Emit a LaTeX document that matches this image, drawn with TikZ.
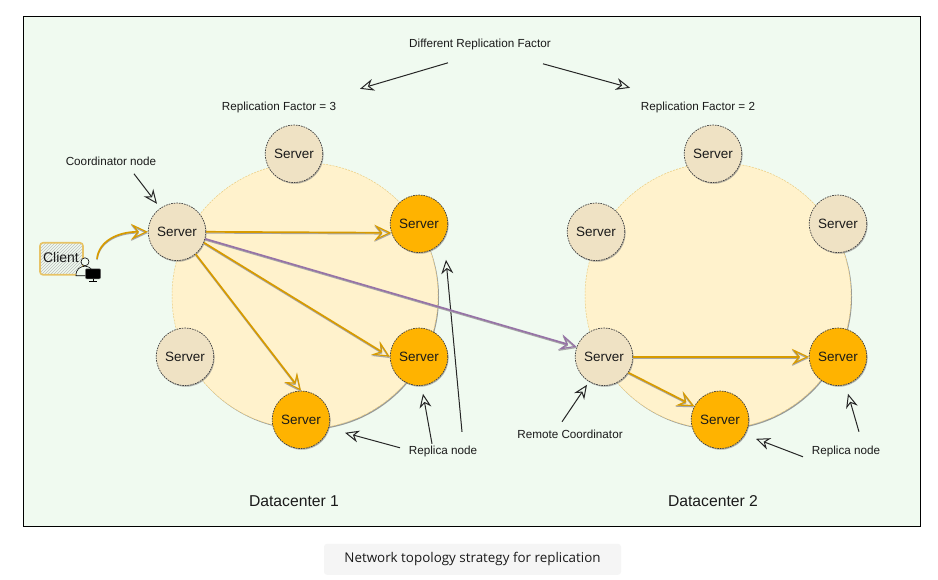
\documentclass[tikz,border=0pt]{standalone}
\usepackage{fontspec}
\setmainfont{Liberation Sans}
\newfontfamily\capfont{Open Sans}
\usetikzlibrary{arrows.meta,patterns,shadows}
\definecolor{framegreen}{HTML}{F0FAF0}
\definecolor{ringyellow}{HTML}{FFF2CC}
\definecolor{servertan}{HTML}{EFE2C4}
\definecolor{replicaorange}{HTML}{FFB300}
\definecolor{flowgold}{HTML}{D79B00}
\definecolor{flowpurple}{HTML}{9673A6}
\definecolor{inktext}{HTML}{1A1A1A}
\tikzset{
  dcring/.style={circle,minimum size=266pt,inner sep=0pt,fill=ringyellow,draw=flowgold!50,dash pattern=on 2pt off 1.2pt,line width=.5pt,
    drop shadow={shadow xshift=1pt,shadow yshift=-1.2pt,fill=black!55,opacity=.7}},
  server/.style={circle,minimum size=57.5pt,inner sep=0pt,fill=servertan,draw=black!75,dash pattern=on 1.6pt off 1pt,line width=.7pt,
    font=\fontsize{13.5}{15}\selectfont,text=inktext,
    drop shadow={shadow xshift=.8pt,shadow yshift=-1.2pt,fill=black!50,opacity=.6}},
  replica/.style={server,fill=replicaorange},
  note/.style={font=\fontsize{11.7}{13}\selectfont,text=inktext,inner sep=1pt},
  dclabel/.style={font=\fontsize{15.7}{18}\selectfont,text=inktext,inner sep=1pt},
  flow/.style={line width=1.7pt,-{Stealth[open,length=17pt,width=16pt,inset=6.5pt,line width=1.2pt]},
    preaction={draw=black!35,line width=1.2pt,transform canvas={yshift=-1.2pt}}},
  pointer/.style={black!85,line width=1pt,-{Stealth[open,length=14pt,width=12pt,inset=4.5pt,line width=1pt]}}
}
\begin{document}
\begin{tikzpicture}[x=1pt,y=-1pt]
\useasboundingbox (0,-.8) rectangle (938,579.2);
\fill[white] (0,-.8) rectangle (938,579.2);
\node[draw=black,line width=1pt,fill=framegreen,minimum width=897pt,minimum height=510pt,inner sep=0pt] (frame) at (471.5,270.6) {};
\node[dcring] (ring1) at (305,295) {};
\node[dcring] (ring2) at (718,295) {};
\node[server] (a0) at (294,153) {Server};
\node[replica] (a1) at (419,223) {Server};
\node[replica] (a2) at (419,356) {Server};
\node[replica] (a3) at (301,419) {Server};
\node[server] (a4) at (185,356) {Server};
\node[server] (a5) at (177,231) {Server};
\node[server] (b0) at (713,153) {Server};
\node[server] (b1) at (838,223) {Server};
\node[replica] (b2) at (838,356) {Server};
\node[replica] (b3) at (720,419) {Server};
\node[server] (b4) at (604,356) {Server};
\node[server] (b5) at (596,231) {Server};
\node[rounded corners=3pt,draw=flowgold!60,line width=1.6pt,fill=white,pattern=north east lines,pattern color=black!25,
  minimum width=43pt,minimum height=32pt,inner sep=0pt] (client) at (61.5,258) {};
\node[font=\fontsize{14}{16}\selectfont,text=inktext,inner sep=0pt] (clientname) at (61,257) {Client};
\node[circle,draw=black,fill=framegreen,line width=.6pt,minimum size=8pt,inner sep=0pt] (head) at (85,261) {};
\draw[black,line width=.6pt,fill=framegreen] (76,275) .. controls (76,268) and (80,266) .. (head.south) .. controls (90,266) and (93,268) .. (93,275) -- cycle;
\node[fill=black,rounded corners=1pt,draw=black!60,line width=.5pt,minimum width=15pt,minimum height=10pt,inner sep=0pt] (screen) at (93,273) {};
\draw[black,line width=1pt] (89,281) -- (97,281) (93,278) -- (93,281);
\node[note] (diff) at (480,44) {Different Replication Factor};
\node[note] (factor1) at (279,107) {Replication Factor = 3};
\node[note] (factor2) at (698,107) {Replication Factor = 2};
\node[note] (coord) at (111,161) {Coordinator node};
\node[note] (rep1) at (443,451) {Replica node};
\node[note] (rep2) at (846,451) {Replica node};
\node[note] (remote) at (570,434) {Remote Coordinator};
\node[dclabel] (dc1) at (294,500) {Datacenter 1};
\node[dclabel] (dc2) at (713,500) {Datacenter 2};
\node[rounded corners=3pt,fill=black!4,minimum width=297pt,minimum height=31pt,inner sep=0pt,text=inktext,
  font=\capfont\fontsize{13.4}{16}\selectfont] (caption) at (472.5,558.5) {Network topology strategy for replication};
\coordinate (c0) at (448,62);
\coordinate (c1) at (360,88);
\coordinate (c2) at (543,63);
\coordinate (c3) at (630,87);
\coordinate (c4) at (134,173);
\coordinate (c5) at (157,203);
\coordinate (c6) at (462,431);
\coordinate (c7) at (446,259);
\coordinate (c8) at (432,443);
\coordinate (c9) at (423,393);
\coordinate (c10) at (400,447);
\coordinate (c11) at (345,432);
\coordinate (c12) at (562,421);
\coordinate (c13) at (587,384);
\coordinate (c14) at (859,431);
\coordinate (c15) at (848,393);
\coordinate (c16) at (803,456);
\coordinate (c17) at (756,438);
\coordinate (c18) at (97,258);
\draw[pointer] (c0) -- (c1);
\draw[pointer] (c2) -- (c3);
\draw[pointer] (c4) -- (c5);
\draw[pointer] (c6) -- (c7);
\draw[pointer] (c8) -- (c9);
\draw[pointer] (c10) -- (c11);
\draw[pointer] (c12) -- (c13);
\draw[pointer] (c14) -- (c15);
\draw[pointer] (c16) -- (c17);
\draw[flow,flowgold] (c18) .. controls (99,240) and (118,231) .. (a5.west);
\draw[flow,flowgold] (a5.east) -- (a1.198);
\draw[flow,flowgold] (a5.-22) -- (a2.west);
\draw[flow,flowgold] (a5.-50) -- (a3.north);
\draw[flow,flowpurple] (a5.-14) -- (b4.160);
\draw[flow,flowgold] (b4.east) -- (b2.west);
\draw[flow,flowgold] (b4.-33) -- (b3.152);
\end{tikzpicture}
\end{document}
